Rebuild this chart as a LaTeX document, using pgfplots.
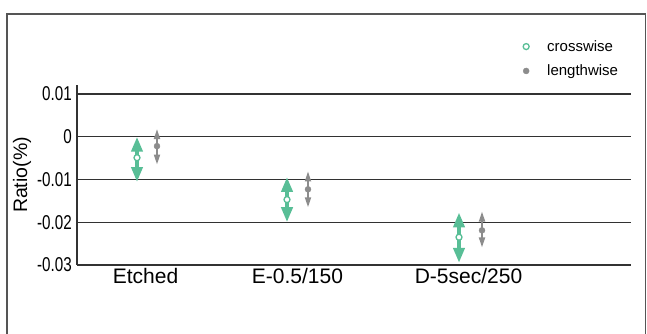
\documentclass[border=0pt]{standalone}
\usepackage{pgfplots}
\pgfplotsset{compat=1.18}
\usepackage{pgfplotstable}
\usepackage{graphicx}
\usepackage{fontspec}
\setmainfont{Liberation Sans}
\usetikzlibrary{arrows.meta}
\definecolor{teal1}{RGB}{88,190,150}
\definecolor{gray1}{RGB}{140,140,140}
\definecolor{gridc}{RGB}{50,50,50}
\definecolor{framec}{RGB}{85,85,85}
\newcommand\tl[1]{\scalebox{0.76}[1]{#1}}

\pgfplotstableread{
x y eu ed
60 -0.0049 0.0049 -0.0057
210 -0.0147 0.0053 -0.0053
382 -0.0235 0.0058 -0.0060
}\cross
\pgfplotstableread{
x y eu ed
80 -0.0022 0.0040 -0.0043
231 -0.0123 0.0042 -0.0042
405 -0.0219 0.0044 -0.0040
}\lengthw

\begin{document}
\begin{tikzpicture}
\useasboundingbox (0,0) rectangle (647pt,334pt);
\draw[line width=1.5pt, framec] (7pt,-10pt) rectangle (645.5pt,320pt);
\begin{axis}[
  at={(77pt,69pt)}, anchor=south west,
  scale only axis, width=554pt, height=180pt,
  xmin=0, xmax=554, ymin=-0.03, ymax=0.0121,
  axis x line*=bottom, axis y line*=left,
  axis line style={line width=1.2pt, gridc},
  scaled y ticks=false,
  ytick={-0.03,-0.02,-0.01,0,0.01},
  yticklabels={\tl{-0.03},\tl{-0.02},\tl{-0.01},\tl{0},\tl{0.01}},
  yticklabel style={font=\fontsize{20}{20}\selectfont, inner sep=0pt, xshift=-5pt},
  ymajorgrids, major grid style={line width=1.2pt, gridc},
  xtick={68.5,220.5,391.5},
  xticklabels={Etched,E-0.5/150,D-5sec/250},
  xticklabel style={font=\fontsize{21}{21}\selectfont, inner sep=0pt, yshift=-3pt, anchor=north},
  major tick length=0pt,
  ylabel={Ratio(\%)},
  every axis y label/.style={at={(axis description cs:-0.099,0.5)}, rotate=90, anchor=center, font=\fontsize{19.5}{19.5}\selectfont},
  clip=false,
  legend style={draw=none, fill=none, at={(0.805,1.26)}, anchor=north west,
    font=\fontsize{15}{15}\selectfont, row sep=8pt, inner sep=0pt},
  legend cell align=left,
]
% error arrows
\addplot[forget plot, teal1, line width=4pt, -{Triangle[length=15pt,width=11pt]},
  quiver={u=0,v=\thisrow{eu}}] table[x=x,y=y]{\cross};
\addplot[forget plot, teal1, line width=4pt, -{Triangle[length=15pt,width=11pt]},
  quiver={u=0,v=\thisrow{ed}}] table[x=x,y=y]{\cross};
\addplot[forget plot, gray1, line width=1.8pt, -{Triangle[length=10pt,width=6pt]},
  quiver={u=0,v=\thisrow{eu}}] table[x=x,y=y]{\lengthw};
\addplot[forget plot, gray1, line width=1.8pt, -{Triangle[length=10pt,width=6pt]},
  quiver={u=0,v=\thisrow{ed}}] table[x=x,y=y]{\lengthw};
% centre marks
\addplot[only marks, mark=*, mark size=3pt, mark options={draw=teal1, fill=white, line width=1.3pt}]
  table[x=x,y=y]{\cross};
\addlegendentry{\hspace{16pt}crosswise}
\addplot[only marks, mark=*, mark size=3pt, mark options={draw=gray1, fill=gray1}]
  table[x=x,y=y]{\lengthw};
\addlegendentry{\hspace{16pt}lengthwise}
\end{axis}
\end{tikzpicture}
\end{document}
